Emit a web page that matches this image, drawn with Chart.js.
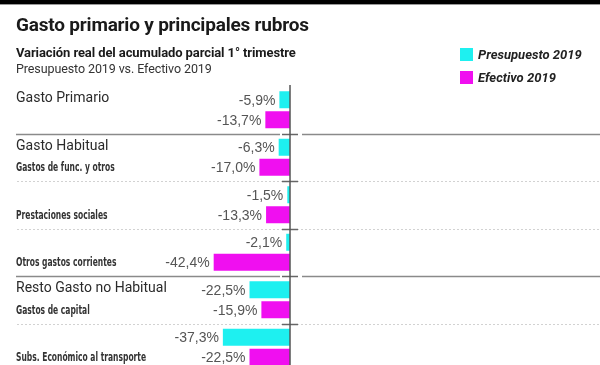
<!DOCTYPE html>
<html>
<head>
<meta charset="utf-8">
<script src="https://cdn.jsdelivr.net/npm/chart.js@4.4.1/dist/chart.umd.min.js"></script>
<style>
  html, body { margin:0; padding:0; width:600px; height:365px; overflow:hidden; background:#fff; }
  #wrap { position:relative; width:600px; height:365px; }
  #topbar { position:absolute; left:0; top:0; width:600px; height:4px; background:#000; }
  #topline { position:absolute; left:0; top:4px; width:600px; height:1px; background:#999; }
  canvas { position:absolute; left:0; top:0; }
  .t { position:absolute; left:16px; white-space:nowrap; color:#1a1a1a; }
  #title { top:13px; font:bold 19px "Roboto", "Liberation Sans", sans-serif; letter-spacing:-0.2px; }
  #sub1 { top:45px; font:bold 13px "Roboto", "Liberation Sans", sans-serif; letter-spacing:-0.1px; }
  #sub2 { top:61px; font:12.5px "Roboto", "Liberation Sans", sans-serif; color:#333; letter-spacing:-0.1px; }
  .leg { position:absolute; left:460px; width:600px; }
  .leg span.sw { position:absolute; left:0; width:13px; height:13px; }
  .leg span.tx { position:absolute; left:18px; white-space:nowrap; font:italic bold 13px "Roboto", "Liberation Sans", sans-serif; color:#222; line-height:15px; }
</style>
</head>
<body>
<div id="wrap">
  <div id="topbar"></div><div id="topline"></div>
  <canvas id="c" width="600" height="372"></canvas>
  <div class="t" id="title">Gasto primario y principales rubros</div>
  <div class="t" id="sub1">Variación real del acumulado parcial 1° trimestre</div>
  <div class="t" id="sub2">Presupuesto 2019 vs. Efectivo 2019</div>
  <div class="leg" style="top:48px"><span class="sw" style="background:#1ef0f0"></span><span class="tx" style="top:-1px">Presupuesto 2019</span></div>
  <div class="leg" style="top:71px"><span class="sw" style="background:#f00ff0"></span><span class="tx" style="top:-1px">Efectivo 2019</span></div>
</div>
<script>
const categories = ['g1','g2','g3','g4','g5','g6'];
const mainLabels = ['Gasto Primario', 'Gasto Habitual', '', '', 'Resto Gasto no Habitual', ''];
const subLabels = ['', 'Gastos de func. y otros', 'Prestaciones sociales', 'Otros gastos corrientes', 'Gastos de capital', 'Subs. Económico al transporte'];
const presupuesto = [-5.9, -6.3, -1.5, -2.1, -22.5, -37.3];
const efectivo = [-13.7, -17.0, -13.3, -42.4, -15.9, -22.5];
const separatorStyle = ['solid', 'dotted', 'dotted', 'solid', 'dotted']; // between groups

const fmt = v => v.toFixed(1).replace('.', ',') + '%';

const overlay = {
  id: 'overlay',
  beforeDatasetsDraw(chart) {
    const ctx = chart.ctx, x = chart.scales.x, y = chart.scales.y;
    const x0 = x.getPixelForValue(0);
    ctx.save();
    for (let i = 0; i < separatorStyle.length; i++) {
      const yy = Math.round((y.getPixelForValue(i) + y.getPixelForValue(i + 1)) / 2) + 0.5;
      if (separatorStyle[i] === 'solid') {
        ctx.strokeStyle = '#8a8a8a'; ctx.lineWidth = 1.5; ctx.setLineDash([]);
        ctx.beginPath();
        ctx.moveTo(16, yy); ctx.lineTo(x0 - 10, yy);
        ctx.moveTo(x0 + 12, yy); ctx.lineTo(600, yy);
        ctx.stroke();
      } else {
        ctx.strokeStyle = '#d2d2d2'; ctx.lineWidth = 1; ctx.setLineDash([2, 2]);
        ctx.beginPath(); ctx.moveTo(17, yy); ctx.lineTo(600, yy); ctx.stroke();
      }
      ctx.setLineDash([]);
      ctx.strokeStyle = '#666'; ctx.lineWidth = 1.5;
      ctx.beginPath(); ctx.moveTo(x0 - 8, yy); ctx.lineTo(x0 + 8, yy); ctx.stroke();
    }
    ctx.restore();
  },
  afterDatasetsDraw(chart) {
    const ctx = chart.ctx, x = chart.scales.x, y = chart.scales.y;
    const x0 = x.getPixelForValue(0);
    ctx.save();
    // axis
    ctx.strokeStyle = '#555'; ctx.lineWidth = 1.5;
    ctx.beginPath(); ctx.moveTo(x0, chart.chartArea.top - 1); ctx.lineTo(x0, chart.chartArea.bottom + 5); ctx.stroke();
    // category labels
    ctx.textBaseline = 'middle'; ctx.textAlign = 'left';
    categories.forEach((c, i) => {
      const cy = y.getPixelForValue(i);
      if (mainLabels[i]) {
        ctx.fillStyle = '#2a2a2a';
        ctx.font = '14px "Roboto", "Liberation Sans", sans-serif';
        ctx.fillText(mainLabels[i], 16, cy - 11);
      }
      if (subLabels[i]) {
        ctx.save();
        ctx.fillStyle = '#333';
        ctx.font = 'bold 11.5px "DejaVu Sans Condensed", "DejaVu Sans", sans-serif';
        ctx.translate(16, cy + 11);
        ctx.scale(0.73, 1);
        ctx.fillText(subLabels[i], 0, 0);
        ctx.restore();
      }
    });
    // value labels
    ctx.textAlign = 'right';
    ctx.fillStyle = '#555';
    ctx.font = '14px "Liberation Sans", sans-serif';
    chart.data.datasets.forEach((ds, di) => {
      chart.getDatasetMeta(di).data.forEach((bar, i) => {
        const v = ds.data[i];
        ctx.fillText(fmt(v), x.getPixelForValue(v) - 4, bar.y + 1);
      });
    });
    ctx.restore();
  }
};

new Chart(document.getElementById('c'), {
  type: 'bar',
  data: {
    labels: categories,
    datasets: [
      { label: 'Presupuesto 2019', data: presupuesto, backgroundColor: '#1ef0f0' },
      { label: 'Efectivo 2019', data: efectivo, backgroundColor: '#f00ff0' }
    ]
  },
  options: {
    indexAxis: 'y',
    responsive: false,
    animation: false,
    events: [],
    layout: { padding: { top: 86, bottom: 1, left: 0, right: 0 } },
    categoryPercentage: 0.842,
    barPercentage: 0.85,
    plugins: { legend: { display: false }, tooltip: { enabled: false } },
    scales: {
      x: { display: false, min: -161.1, max: 172.2 },
      y: { display: false }
    }
  },
  plugins: [overlay]
});
</script>
</body>
</html>
